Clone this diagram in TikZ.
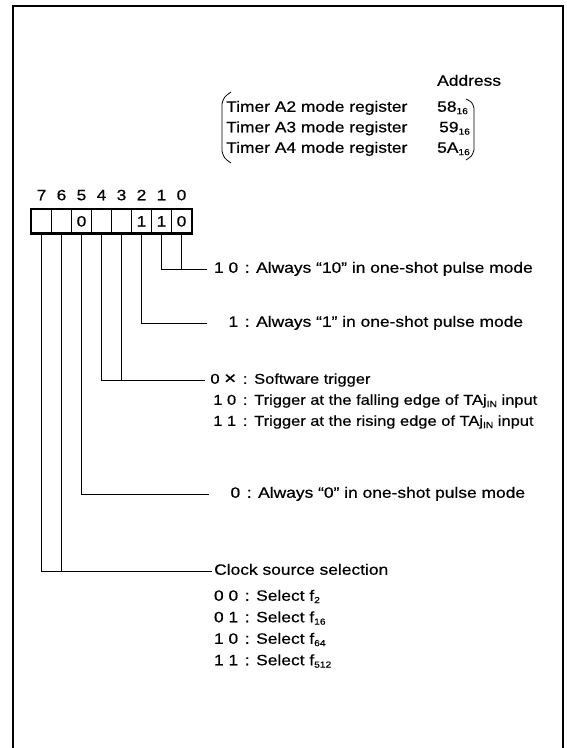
\documentclass[tikz,border=0pt]{standalone}
\usepackage{fontspec}
\setmainfont{Liberation Sans}[FakeStretch=1.16,FakeBold=0.5]
\newcommand\mysub[1]{\raisebox{-0.3ex}{\fontsize{8.8}{9}\selectfont #1}}
\newcommand\rowtxt[2]{\makebox[29pt][r]{#1}\makebox[18pt]{:}#2}
\newcommand\bigx{\raisebox{-0.05ex}{\scalebox{1.25}{×}}}
\begin{document}
\begin{tikzpicture}[x=1pt,y=-1pt,
  font=\fontsize{15}{17}\selectfont,
  txt/.style={inner xsep=2pt, inner ysep=0pt, text height=10.5pt, text depth=3pt, anchor=west},
  small/.style={font=\fontsize{14.2}{17}\selectfont},
  lbl/.style={inner sep=0pt, text height=10.5pt, text depth=0pt},
  cellbox/.style={draw, line width=0.9pt, minimum width=20pt, minimum height=23.5pt, inner sep=0pt, text height=10.5pt, text depth=0pt},
  wire/.style={line width=0.8pt},
  frame/.style={line width=1.8pt},
  brk/.style={line width=0.8pt}]
\useasboundingbox (0,0) rectangle (566,748);
\draw[frame] (13,748) -- (13,6) -- (563,6) -- (563,748);

% header
\node[txt] (addr) at (435,82) {Address};
\node[txt] (ra2) at (224,108) {Timer A2 mode register};
\node[txt] (ra3) at (224,128.5) {Timer A3 mode register};
\node[txt] (ra4) at (224,149) {Timer A4 mode register};
\node[txt] (va2) at (435,108) {58\mysub{16}};
\node[txt] (va3) at (437,128.5) {59\mysub{16}};
\node[txt] (va4) at (435,149) {5A\mysub{16}};
\draw[brk] (231,92) .. controls (224,97) .. (222,104) -- (222,151) .. controls (224,158) .. (231,163);
\draw[brk] (466,99) .. controls (472,102) .. (474,108) -- (474,150) .. controls (472,156) .. (466,160);

% register
\foreach \i/\v in {7/,6/,5/0,4/,3/,2/1,1/1,0/0}{
  \node[cellbox] (c\i) at ({181.5-20*\i},221.25) {\v};
  \node[lbl] (n\i) at ({181.5-20*\i},195) {\i};
}
\draw[line width=2.3pt] (c7.north west) rectangle (c0.south east);

% bits 1,0
\node[txt] (tA) at (207,269) {\rowtxt{1 0}{Always “10” in one-shot pulse mode}};
\draw[wire] (c1.south) |- (tA.west);
\draw[wire] (c0.south) -- (c0.south |- tA.west);

% bit 2
\node[txt] (tB) at (207,323) {\rowtxt{1}{Always “1” in one-shot pulse mode}};
\draw[wire] (c2.south) |- (tB.west);

% bits 4,3
\node[txt,small] (tT0) at (205,380) {\rowtxt{0 \bigx}{Software trigger}};
\node[txt,small] (tT1) at (205,401) {\rowtxt{1 0}{Trigger at the falling edge of TAj\mysub{IN} input}};
\node[txt,small] (tT2) at (205,422) {\rowtxt{1 1}{Trigger at the rising edge of TAj\mysub{IN} input}};
\draw[wire] (c4.south) |- (tT0.west);
\draw[wire] (c3.south) -- (c3.south |- tT0.west);

% bit 5
\node[txt] (t5) at (209,494) {\rowtxt{0}{Always “0” in one-shot pulse mode}};
\draw[wire] (c5.south) |- (t5.west);

% bits 7,6
\node[txt] (tC) at (212,571) {Clock source selection};
\draw[wire] (c7.south) |- (tC.west);
\draw[wire] (c6.south) -- (c6.south |- tC.west);
\node[txt] (s0) at (207,597) {\rowtxt{0 0}{Select f\mysub{2}}};
\node[txt] (s1) at (207,618.5) {\rowtxt{0 1}{Select f\mysub{16}}};
\node[txt] (s2) at (207,640) {\rowtxt{1 0}{Select f\mysub{64}}};
\node[txt] (s3) at (207,661.5) {\rowtxt{1 1}{Select f\mysub{512}}};
\end{tikzpicture}
\end{document}
